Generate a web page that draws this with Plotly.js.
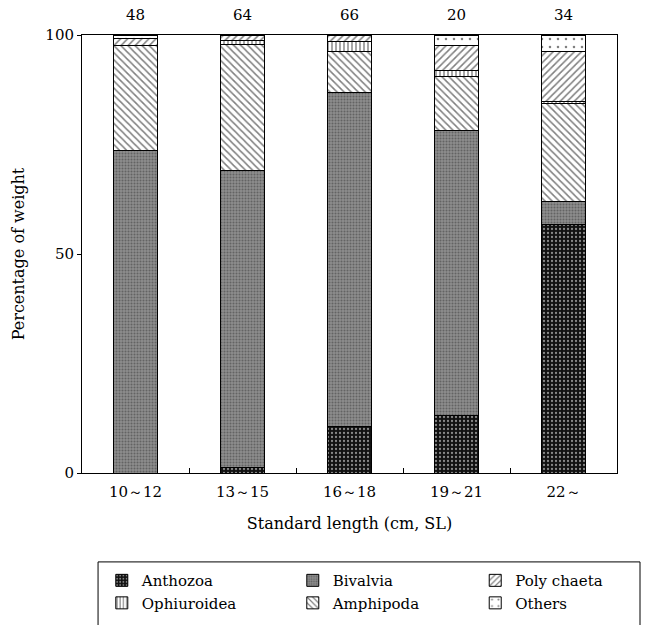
<!DOCTYPE html>
<html>
<head>
<meta charset="utf-8">
<script src="https://cdn.plot.ly/plotly-3.0.1.min.js"></script>
<style>html,body{margin:0;padding:0;background:#fff;}#chart{width:650px;height:625px;}</style>
</head>
<body>
<div id="chart"></div>
<script>
// Size classes (standard length, cm SL)
const categories = ["10～12", "13～15", "16～18", "19～21", "22～"];
// Number of fish examined per class
const sampleSizes = [48, 64, 66, 20, 34];
// Percentage of weight per prey group (stacked bottom to top)
const anthozoa    = [0,    1.3,  10.6, 13.1, 56.8];
const bivalvia    = [73.6, 67.7, 76.2, 65.0, 5.3];
const amphipoda   = [23.9, 28.8, 9.5,  12.4, 22.3];
const ophiuroidea = [0,    1.0,  2.2,  1.3,  0.4];
const polyChaeta  = [1.7,  1.2,  1.5,  5.7,  11.4];
const others      = [0.8,  0,    0,    2.5,  3.8];

const FONT = "DejaVu Serif";
const line = {color: "#000", width: 1};

function bar(name, y, pattern, legendId, rank) {
  return {
    type: "bar", name: name, x: categories, y: y, width: 0.42,
    legend: legendId, legendrank: rank,
    marker: {color: pattern.bgcolor, line: line, pattern: pattern},
    hoverinfo: "name+y"
  };
}

const traces = [
  bar("Anthozoa", anthozoa, {shape: ".", bgcolor: "#111", fgcolor: "#fff", size: 4, solidity: 0.25, fillmode: "overlay"}, "legend", 1),
  bar("Bivalvia", bivalvia, {shape: ".", bgcolor: "#8c8c8c", fgcolor: "#3a3a3a", size: 3, solidity: 0.35, fillmode: "overlay"}, "legend2", 1),
  bar("Amphipoda", amphipoda, {shape: "\\", bgcolor: "#fff", fgcolor: "#000", size: 5, solidity: 0.3, fillmode: "overlay"}, "legend2", 2),
  bar("Ophiuroidea", ophiuroidea, {shape: "|", bgcolor: "#fff", fgcolor: "#000", size: 4, solidity: 0.35, fillmode: "overlay"}, "legend", 2),
  bar("Poly chaeta", polyChaeta, {shape: "/", bgcolor: "#fff", fgcolor: "#000", size: 5, solidity: 0.3, fillmode: "overlay"}, "legend3", 1),
  bar("Others", others, {shape: ".", bgcolor: "#fff", fgcolor: "#000", size: 8, solidity: 0.08, fillmode: "overlay"}, "legend3", 2)
];

const annotations = categories.map((c, i) => ({
  x: c, y: 1, xref: "x", yref: "paper", yanchor: "bottom", yshift: 9,
  text: String(sampleSizes[i]), showarrow: false,
  font: {family: FONT, size: 15, color: "#000"}
}));

const shapes = [
  {type: "line", xref: "paper", yref: "paper", x0: 0.03, x1: 1.043, y0: -0.203, y1: -0.203, line: {color: "#000", width: 1}},
  {type: "line", xref: "paper", yref: "paper", x0: 0.03, x1: 0.03, y0: -0.203, y1: -0.40, line: {color: "#000", width: 1}},
  {type: "line", xref: "paper", yref: "paper", x0: 1.043, x1: 1.043, y0: -0.203, y1: -0.40, line: {color: "#000", width: 1}}
];

function legendAt(x) {
  return {
    orientation: "v", x: x, xanchor: "left", y: -0.208, yanchor: "top",
    font: {family: FONT, size: 15, color: "#000"},
    traceorder: "normal", itemclick: false, bgcolor: "rgba(0,0,0,0)", borderwidth: 0
  };
}

const layout = {
  width: 650, height: 625,
  margin: {l: 82, r: 33, t: 35, b: 152, autoexpand: false},
  paper_bgcolor: "#fff", plot_bgcolor: "#fff",
  barmode: "stack",
  font: {family: FONT, size: 15, color: "#000"},
  showlegend: true,
  legend: legendAt(0.037),
  legend2: legendAt(0.394),
  legend3: legendAt(0.735),
  xaxis: {
    type: "category", range: [-0.5, 4.5], automargin: false,
    showline: true, linecolor: "#000", linewidth: 1, mirror: true,
    ticks: "inside", tickson: "boundaries", ticklen: 5, tickcolor: "#000",
    showgrid: false, zeroline: false, ticklabelstandoff: 5,
    tickfont: {family: FONT, size: 15, color: "#000"},
    title: {text: "Standard length (cm, SL)", font: {family: FONT, size: 16, color: "#000"}, standoff: 17}
  },
  yaxis: {
    range: [0, 100], tickvals: [0, 50, 100], automargin: false,
    showline: true, linecolor: "#000", linewidth: 1, mirror: true,
    ticks: "outside", ticklen: 4, tickcolor: "#000",
    showgrid: false, zeroline: false,
    tickfont: {family: FONT, size: 15, color: "#000"},
    title: {text: "Percentage of weight", font: {family: FONT, size: 16, color: "#000"}, standoff: 16}
  },
  annotations: annotations,
  shapes: shapes
};

Plotly.newPlot("chart", traces, layout, {displayModeBar: false, staticPlot: true});
</script>
</body>
</html>
